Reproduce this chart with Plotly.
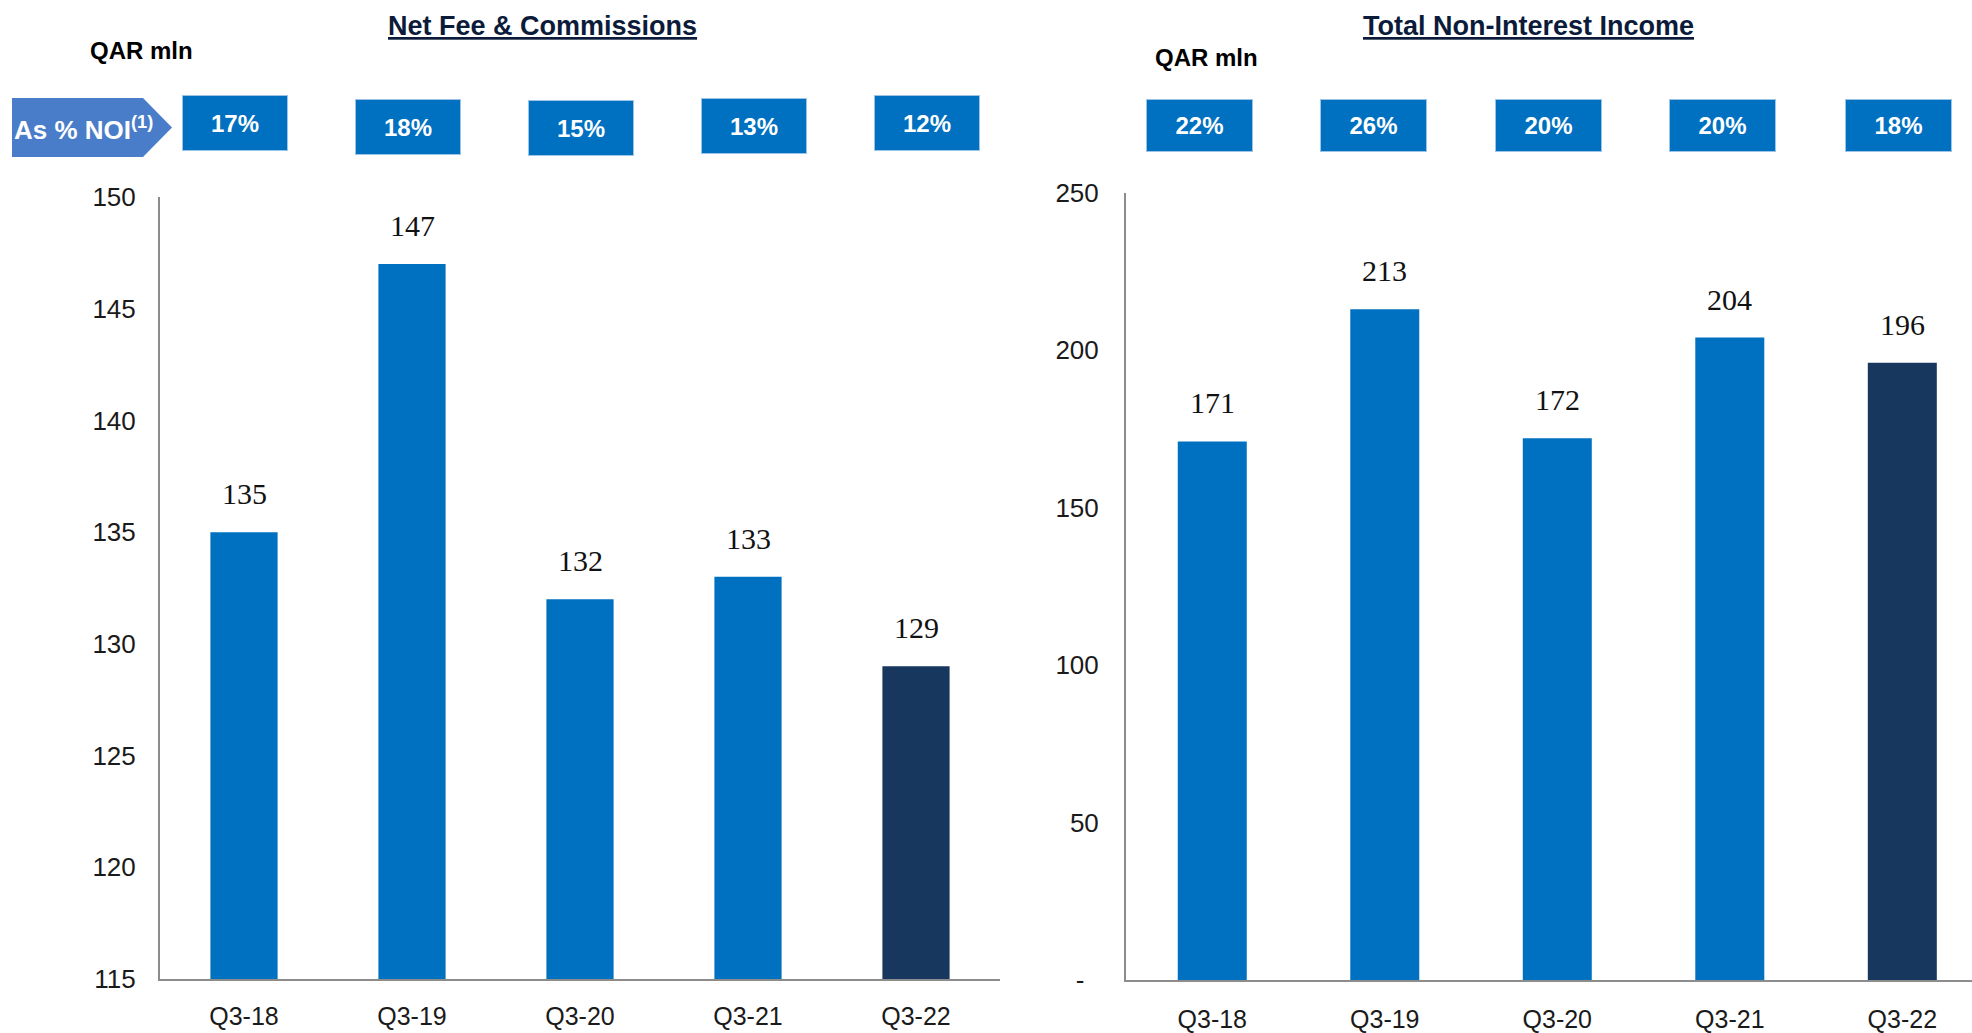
import plotly.graph_objects as go

# ---- data -------------------------------------------------------------
categories = ["Q3-18", "Q3-19", "Q3-20", "Q3-21", "Q3-22"]

net_fee = [135, 147, 132, 133, 129]                 # QAR mln
net_fee_pct = ["17%", "18%", "15%", "13%", "12%"]   # as % of NOI

non_interest = [171, 213, 172, 204, 196]            # QAR mln
non_interest_pct = ["22%", "26%", "20%", "20%", "18%"]

left_ticks = [115, 120, 125, 130, 135, 140, 145, 150]
right_ticks = [0, 50, 100, 150, 200, 250]
right_ticktext = ["-\u00a0\u00a0", "50", "100", "150", "200", "250"]

# ---- styling -----------------------------------------------------------
W, H = 1972, 1033
BLUE = "#0070C0"
NAVY = "#17375E"
ARROW = "#4A7DC9"
TITLE = "#0C1B3A"
AXIS = "#8C8C8C"
SANS = "Liberation Sans, Arial, sans-serif"
SERIF = "Liberation Serif, Times New Roman, serif"

bar_colors = [BLUE] * (len(categories) - 1) + [NAVY]


def px(x):
    return x / W


def py(y):
    return 1 - y / H


fig = go.Figure()

fig.add_trace(go.Bar(
    x=categories, y=net_fee, width=0.4,
    marker=dict(color=bar_colors, line=dict(width=0)),
    xaxis="x", yaxis="y", hoverinfo="skip", showlegend=False,
))
fig.add_trace(go.Bar(
    x=categories, y=non_interest, width=0.4,
    marker=dict(color=bar_colors, line=dict(width=0)),
    xaxis="x2", yaxis="y2", hoverinfo="skip", showlegend=False,
))

axis_common = dict(
    showline=True, linecolor=AXIS, linewidth=2, showgrid=False,
    zeroline=False, ticks="", fixedrange=True, automargin=False,
    tickfont=dict(family=SANS, size=26, color="#1A1A1A"),
)

fig.update_layout(
    width=W, height=H, autosize=False,
    margin=dict(l=0, r=0, t=0, b=0, autoexpand=False),
    paper_bgcolor="white", plot_bgcolor="white",
    bargap=0.6,
    xaxis=dict(axis_common, domain=[px(160), px(1000)], range=[-0.5, 4.5],
               anchor="y", ticklabelstandoff=14,
               tickfont=dict(family=SANS, size=25, color="#1A1A1A")),
    yaxis=dict(axis_common, domain=[py(979), py(197)], range=[115, 150],
               tickvals=left_ticks, anchor="x", ticklabelstandoff=17),
    xaxis2=dict(axis_common, domain=[px(1126), 1.0], range=[-0.5, 4.404],
                anchor="y2", ticklabelstandoff=16,
                tickfont=dict(family=SANS, size=25, color="#1A1A1A")),
    yaxis2=dict(axis_common, domain=[py(980), py(192.7)], range=[0, 250],
                tickvals=right_ticks, ticktext=right_ticktext, anchor="x2",
                ticklabelstandoff=20),
)

annotations = []

# value labels above each bar
for xa, ya, values in (("x", "y", net_fee), ("x2", "y2", non_interest)):
    for cat, v in zip(categories, values):
        annotations.append(dict(
            x=cat, y=v, xref=xa, yref=ya, text=str(v), showarrow=False,
            xanchor="center", yanchor="bottom", yshift=20,
            font=dict(family=SERIF, size=30, color="#111111"),
        ))

# "% of NOI" boxes above each chart
left_shift = [-9, -4, 1, 6, 11]
left_center = [123, 127, 128, 126, 123]
for cat, pct, dx, cy in zip(categories, net_fee_pct, left_shift, left_center):
    annotations.append(dict(
        x=cat, xref="x", xshift=dx, y=py(cy), yref="paper",
        text=f"<b>{pct}</b>", showarrow=False,
        xanchor="center", yanchor="middle", width=104, height=54,
        bgcolor=BLUE, bordercolor="#9DC3E6", borderwidth=1, borderpad=0,
        font=dict(family=SANS, size=24, color="white"),
    ))

right_shift = [-13, -11, -9, -7, -4]
for cat, pct, dx in zip(categories, non_interest_pct, right_shift):
    annotations.append(dict(
        x=cat, xref="x2", xshift=dx, y=py(125.5), yref="paper",
        text=f"<b>{pct}</b>", showarrow=False,
        xanchor="center", yanchor="middle", width=105, height=51,
        bgcolor=BLUE, bordercolor="#9DC3E6", borderwidth=1, borderpad=0,
        font=dict(family=SANS, size=24, color="white"),
    ))

# chart titles
annotations.append(dict(
    x=px(542), y=py(26), xref="paper", yref="paper",
    text="<b><u>Net Fee &amp; Commissions</u></b>", showarrow=False,
    xanchor="center", yanchor="middle",
    font=dict(family=SANS, size=27, color=TITLE),
))
annotations.append(dict(
    x=px(1528), y=py(26), xref="paper", yref="paper",
    text="<b><u>Total Non-Interest Income</u></b>", showarrow=False,
    xanchor="center", yanchor="middle",
    font=dict(family=SANS, size=27, color=TITLE),
))

# unit labels
annotations.append(dict(
    x=px(141), y=py(50), xref="paper", yref="paper",
    text="<b>QAR mln</b>", showarrow=False, xanchor="center", yanchor="middle",
    font=dict(family=SANS, size=24, color="#000000"),
))
annotations.append(dict(
    x=px(1206), y=py(57), xref="paper", yref="paper",
    text="<b>QAR mln</b>", showarrow=False, xanchor="center", yanchor="middle",
    font=dict(family=SANS, size=24, color="#000000"),
))

# row label inside the arrow tag
annotations.append(dict(
    x=px(12), y=py(128), xref="paper", yref="paper",
    text="<b>As % NOI<sup>(1)</sup></b>", showarrow=False,
    xanchor="left", yanchor="middle",
    font=dict(family=SANS, size=26, color="white"),
))

fig.update_layout(annotations=annotations)

# arrow-shaped tag for the row label
arrow_pts = [(12, 98), (143, 98), (172, 127.5), (143, 157), (12, 157)]
path = "M " + " L ".join(f"{px(x):.5f},{py(y):.5f}" for x, y in arrow_pts) + " Z"
fig.add_shape(type="path", path=path, xref="paper", yref="paper",
              fillcolor=ARROW, line=dict(width=0), layer="below")

fig.write_html("out.html")
